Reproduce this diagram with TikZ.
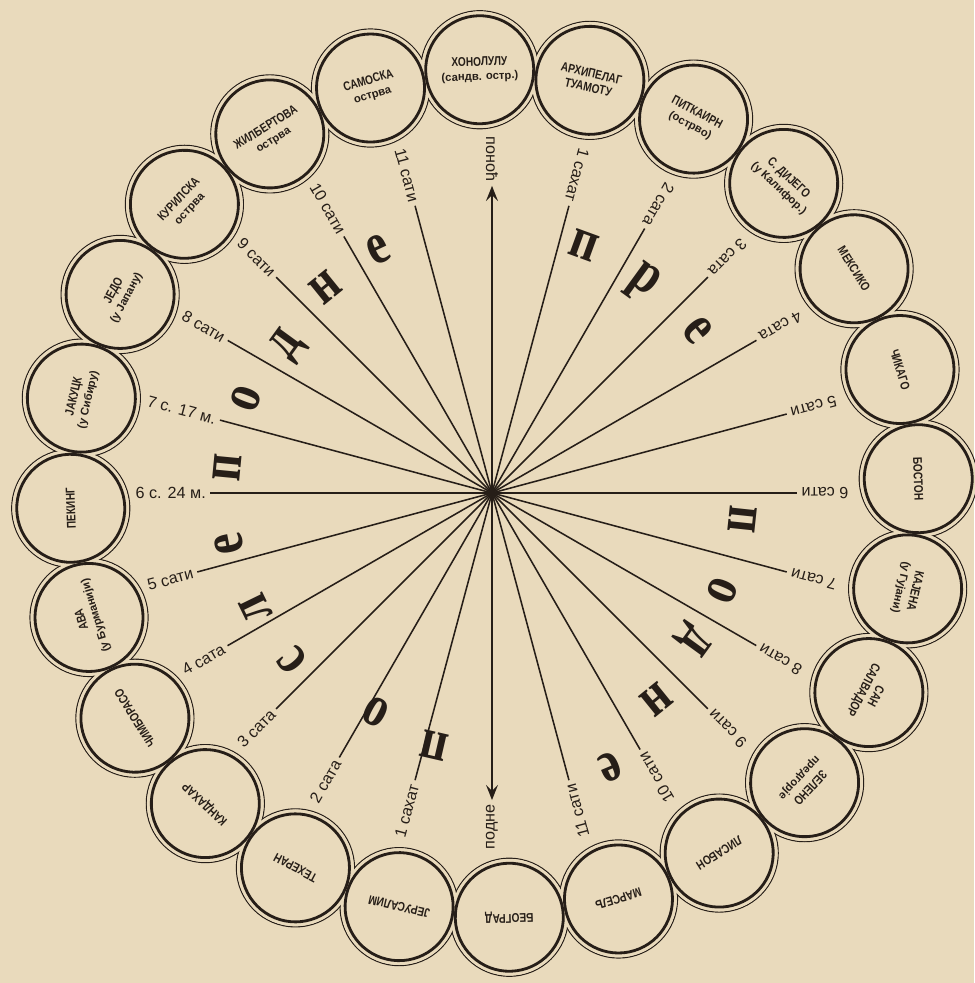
\documentclass[tikz,border=0pt]{standalone}
\usepackage{fontspec}
\setmainfont{Liberation Serif}
\newfontfamily\cityfont[FakeStretch=0.8]{Liberation Sans}
\newfontfamily\subfont{Liberation Sans}
\newfontfamily\hourfont{Liberation Sans}
\newfontfamily\bigfont[FakeStretch=0.8]{Liberation Serif}
\usetikzlibrary{arrows.meta, backgrounds}
\definecolor{paper}{RGB}{233,218,188}
\definecolor{ink}{RGB}{38,30,24}
\newcommand{\citysub}[1]{{\subfont\bfseries\fontsize{8}{9}\selectfont #1}}
\tikzset{
  citycircle/.style={
    circle, draw=ink, line width=2pt, minimum size=2.7cm, inner sep=0pt,
    align=center, text=ink, font=\cityfont\bfseries\fontsize{9}{10}\selectfont
  },
  cityring/.style={
    draw=ink, line width=0.8pt
  },
  hourlabel/.style={
    anchor=west, inner sep=1pt, text=ink,
    font=\hourfont\fontsize{11.5}{12}\selectfont
  },
  spoke/.style={
    draw=ink, line width=1.1pt, shorten >=2pt
  },
  spokearrow/.style={
    spoke, -{Stealth[length=3.8mm, width=3mm, inset=1.5mm]}
  },
  bigletter/.style={
    text=ink, inner sep=0pt, text height=19pt, text depth=0pt,
    font=\bigfont\bfseries\fontsize{42}{42}\selectfont
  },
}

\begin{document}
\begin{tikzpicture}[x=0.025cm, y=0.025cm]
  \useasboundingbox (-492,-490) rectangle (482,493);
  \coordinate (hub) at (0,0);

  % ── Cities round the dial ──
  \begin{scope}[shift={(2.5,-0.5)}]
    \node[citycircle, rotate=2]    (honolulu)   at (92:424)   {ХОНОЛУЛУ\\\citysub{(сандв. остр.)}};
    \node[citycircle, rotate=-13]  (tuamotu)    at (77:424)   {АРХИПЕЛАГ\\ТУАМОТУ};
    \node[citycircle, rotate=-28]  (pitcairn)   at (62:424)   {ПИТКАИРН\\\citysub{(острво)}};
    \node[citycircle, rotate=-43]  (sandiego)   at (47:424)   {С. ДИЈЕГО\\\citysub{(у Калифор.)}};
    \node[citycircle, rotate=-58]  (mexico)     at (32:424)   {МЕКСИКО};
    \node[citycircle, rotate=-73]  (chicago)    at (17:424)   {ЧИКАГО};
    \node[citycircle, rotate=-88]  (boston)     at (2:424)    {БОСТОН};
    \node[citycircle, rotate=-103] (cayenne)    at (-13:424)  {КАЈЕНА\\\citysub{(у Гујани)}};
    \node[citycircle, rotate=-118] (salvador)   at (-28:424)  {САН\\САЛВАДОР};
    \node[citycircle, rotate=-133] (capeverde)  at (-43:424)  {ЗЕЛЕНО\\\citysub{предгорје}};
    \node[citycircle, rotate=-148] (lisbon)     at (-58:424)  {ЛИСАБОН};
    \node[citycircle, rotate=-163] (marseille)  at (-73:424)  {МАРСЕЉ};
    \node[citycircle, rotate=-178] (belgrade)   at (-88:424)  {БЕОГРАД};
    \node[citycircle, rotate=167]  (jerusalem)  at (-103:424) {ЈЕРУСАЛИМ};
    \node[citycircle, rotate=152]  (tehran)     at (-118:424) {ТЕХЕРАН};
    \node[citycircle, rotate=137]  (kandahar)   at (-133:424) {КАНДАХАР};
    \node[citycircle, rotate=122]  (chimborazo) at (-148:424) {ЧИМБОРАСО};
    \node[citycircle, rotate=107]  (ava)        at (-163:424) {АВА\\\citysub{(у Бурманији)}};
    \node[citycircle, rotate=92]   (peking)     at (-178:424) {ПЕКИНГ};
    \node[citycircle, rotate=77]   (yakutsk)    at (167:424)  {ЈАКУЦК\\\citysub{(у Сибиру)}};
    \node[citycircle, rotate=62]   (yedo)       at (152:424)  {ЈЕДО\\\citysub{(у Јапану)}};
    \node[citycircle, rotate=47]   (kuril)      at (137:424)  {КУРИЛСКА\\\citysub{острва}};
    \node[citycircle, rotate=32]   (gilbert)    at (122:424)  {ЖИЛБЕРТОВА\\\citysub{острва}};
    \node[citycircle, rotate=17]   (samoa)      at (107:424)  {САМОСКА\\\citysub{острва}};
  \end{scope}

  % ── Paper and the thin outer rim ──
  \begin{scope}[on background layer]
    \fill[paper] (-492,-490) rectangle (482,493);
    \foreach \city in {honolulu, tuamotu, pitcairn, sandiego, mexico, chicago,
        boston, cayenne, salvador, capeverde, lisbon, marseille, belgrade,
        jerusalem, tehran, kandahar, chimborazo, ava, peking, yakutsk, yedo,
        kuril, gilbert, samoa}
      \draw[cityring] (\city.center) circle[radius=1.475cm];
    \foreach \city in {honolulu, tuamotu, pitcairn, sandiego, mexico, chicago,
        boston, cayenne, salvador, capeverde, lisbon, marseille, belgrade,
        jerusalem, tehran, kandahar, chimborazo, ava, peking, yakutsk, yedo,
        kuril, gilbert, samoa}
      \fill[paper] (\city.center) circle[radius=1.459cm];
  \end{scope}

  % ── Hours before noon ──
  \node[hourlabel, rotate=270] (midnight) at (90:358)  {поноћ};
  \node[hourlabel, rotate=255] (am1)      at (75:358)  {1 сахат};
  \node[hourlabel, rotate=240] (am2)      at (60:358)  {2 сата};
  \node[hourlabel, rotate=225] (am3)      at (45:358)  {3 сата};
  \node[hourlabel, rotate=210] (am4)      at (30:358)  {4 сата};
  \node[hourlabel, rotate=195] (am5)      at (15:358)  {5 сати};
  \node[hourlabel, rotate=180] (am6)      at (0:358)   {6 сати};
  \node[hourlabel, rotate=165] (am7)      at (-15:358) {7 сати};
  \node[hourlabel, rotate=150] (am8)      at (-30:358) {8 сати};
  \node[hourlabel, rotate=135] (am9)      at (-45:358) {9 сати};
  \node[hourlabel, rotate=120] (am10)     at (-60:358) {10 сати};
  \node[hourlabel, rotate=105] (am11)     at (-75:358) {11 сати};
  \node[hourlabel, rotate=90]  (noon)     at (-90:358) {подне};

  % ── Hours after noon ──
  \node[hourlabel, rotate=75]  (pm1)  at (-105:358) {1 сахат};
  \node[hourlabel, rotate=60]  (pm2)  at (-120:358) {2 сата};
  \node[hourlabel, rotate=45]  (pm3)  at (-135:358) {3 сата};
  \node[hourlabel, rotate=30]  (pm4)  at (-150:358) {4 сата};
  \node[hourlabel, rotate=15]  (pm5)  at (-165:358) {5 сати};
  \node[hourlabel, rotate=0]   (pm6)  at (180:358)  {6 с. 24 м.};
  \node[hourlabel, rotate=-15] (pm7)  at (165:358)  {7 с. 17 м.};
  \node[hourlabel, rotate=-30] (pm8)  at (150:358)  {8 сати};
  \node[hourlabel, rotate=-45] (pm9)  at (135:358)  {9 сати};
  \node[hourlabel, rotate=-60] (pm10) at (120:358)  {10 сати};
  \node[hourlabel, rotate=-75] (pm11) at (105:358)  {11 сати};

  % ── Spokes ──
  \draw[spokearrow] (hub) -- (midnight.east);
  \draw[spokearrow] (hub) -- (noon.east);
  \foreach \h in {1,...,11} {
    \draw[spoke] (hub) -- (am\h.east);
    \draw[spoke] (hub) -- (pm\h.east);
  }

  % ── пре подне ──
  \node[bigletter, rotate=-20]   (pre1) at (69.6:264)  {п};
  \node[bigletter, rotate=-36]   (pre2) at (54.2:264)  {р};
  \node[bigletter, rotate=-51.5] (pre3) at (38.5:262)  {е};
  \node[bigletter, rotate=-96]   (am01) at (-6:252)    {п};
  \node[bigletter, rotate=-113]  (am02) at (-23:250)   {о};
  \node[bigletter, rotate=-126]  (am03) at (-36:254)   {д};
  \node[bigletter, rotate=-141]  (am04) at (-51.5:264) {н};
  \node[bigletter, rotate=-157]  (am05) at (-66.6:298) {е};

  % ── после подне ──
  \node[bigletter, rotate=167]   (post1) at (257:259)   {п};
  \node[bigletter, rotate=152]   (post2) at (242:248)   {о};
  \node[bigletter, rotate=130]   (post3) at (220:260)   {с};
  \node[bigletter, rotate=116]   (post4) at (206:263)   {л};
  \node[bigletter, rotate=101]   (post5) at (191:268)   {е};
  \node[bigletter, rotate=84.5]  (pm01)  at (174.5:266) {п};
  \node[bigletter, rotate=69]    (pm02)  at (159:263)   {о};
  \node[bigletter, rotate=54]    (pm03)  at (144:256)   {д};
  \node[bigletter, rotate=39]    (pm04)  at (129:264)   {н};
  \node[bigletter, rotate=25]    (pm05)  at (115:268)   {е};
\end{tikzpicture}
\end{document}
